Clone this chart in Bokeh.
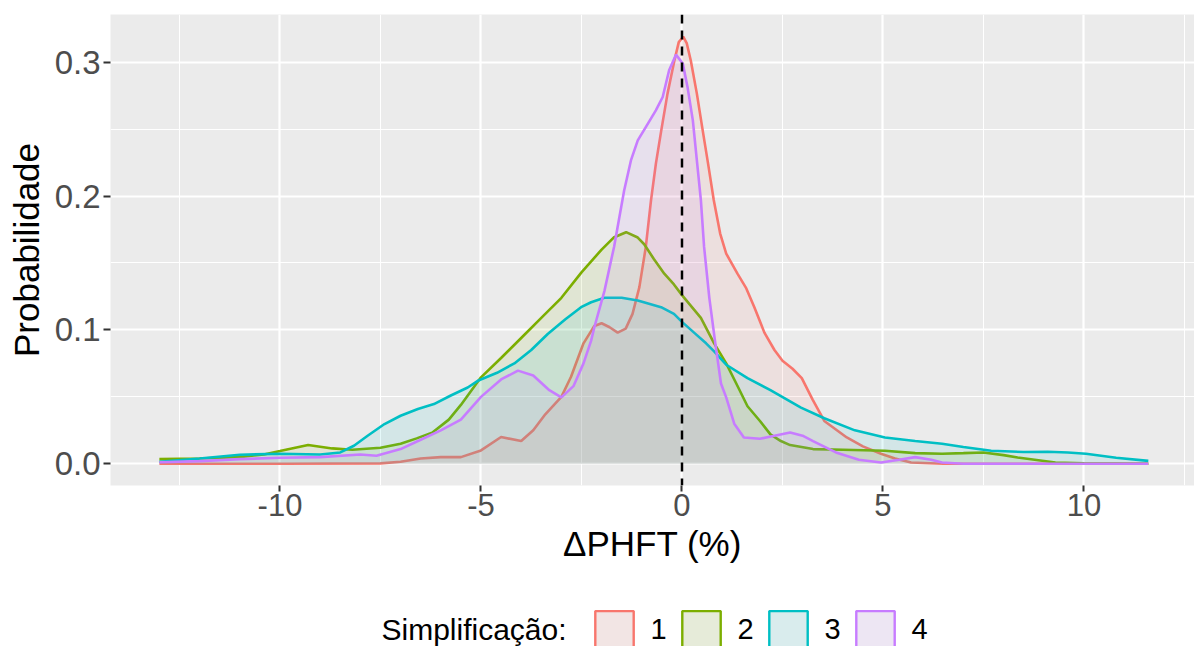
from bokeh.plotting import figure
from bokeh.layouts import column
from bokeh.models import (FixedTicker, Span, Legend, LegendItem, Label,
                          NumeralTickFormatter, Range1d)
from bokeh.embed import file_html
from bokeh.resources import INLINE

# ---------------- data ----------------
groups = ["1", "2", "3", "4"]
colors = ["#F8766D", "#7CAE00", "#00BFC4", "#C77CFF"]

x1 = [-13.0, -10.0, -7.5, -7.0, -6.5, -6.0, -5.5, -5.0, -4.5, -4.0,
      -3.7, -3.4, -3.0, -2.76, -2.45, -2.18, -2.0, -1.8, -1.6, -1.4,
      -1.23, -1.06, -0.9, -0.77, -0.65, -0.51, -0.36, -0.19, -0.08, 0.03,
      0.12, 0.22, 0.37, 0.51, 0.65, 0.79, 0.95, 1.1, 1.38, 1.6,
      1.8, 2.05, 2.3, 2.5, 2.75, 2.98, 3.25, 3.54, 4.1, 4.5,
      4.95, 5.3, 5.7, 6.5, 8.0, 10.0, 11.6]
y1 = [0.0, 0.0, 0.0003, 0.0015, 0.004, 0.005, 0.005, 0.010, 0.020, 0.017,
      0.025, 0.037, 0.050, 0.065, 0.090, 0.103, 0.105, 0.102, 0.098, 0.101,
      0.112, 0.132, 0.162, 0.197, 0.224, 0.250, 0.2765, 0.301, 0.315, 0.319,
      0.314, 0.301, 0.2765, 0.250, 0.224, 0.197, 0.172, 0.157, 0.142, 0.131,
      0.117, 0.098, 0.085, 0.077, 0.071, 0.064, 0.048, 0.032, 0.0197, 0.013,
      0.0075, 0.004, 0.001, 0.0, 0.0, 0.0, 0.0]

x2 = [-13.0, -12.0, -11.0, -10.4, -10.0, -9.3, -8.7, -8.2, -7.5, -7.0,
      -6.6, -6.2, -5.8, -5.5, -5.0, -4.5, -4.0, -3.5, -3.0, -2.5,
      -2.0, -1.7, -1.39, -1.1, -0.94, -0.7, -0.44, -0.2, 0.0, 0.47,
      0.8, 1.1, 1.4, 1.63, 1.94, 2.2, 2.46, 2.69, 3.26, 4.0,
      5.05, 5.8, 6.47, 7.0, 7.5, 8.0, 8.35, 9.29, 10.0, 11.6]
y2 = [0.0035, 0.004, 0.005, 0.007, 0.0095, 0.014, 0.0115, 0.0105, 0.012, 0.015,
      0.019, 0.0235, 0.033, 0.044, 0.0646, 0.079, 0.094, 0.109, 0.124, 0.143,
      0.160, 0.169, 0.173, 0.169, 0.164, 0.153, 0.142, 0.134, 0.126, 0.109,
      0.090, 0.075, 0.057, 0.043, 0.032, 0.022, 0.017, 0.014, 0.011, 0.0105,
      0.0097, 0.008, 0.0075, 0.008, 0.0085, 0.0065, 0.0047, 0.001, 0.0003, 0.0]

x3 = [-13.0, -12.0, -11.0, -10.0, -9.0, -8.5, -8.16, -7.82, -7.4, -7.0,
      -6.57, -6.17, -5.75, -5.33, -5.08, -4.6, -4.17, -3.75, -3.34, -2.9,
      -2.51, -2.26, -1.93, -1.5, -1.1, -0.52, -0.2, 0.0, 0.3, 0.6,
      0.8, 1.1, 1.63, 2.2, 2.96, 3.54, 4.3, 5.05, 5.8, 6.47,
      7.0, 7.69, 8.5, 9.1, 9.6, 10.05, 10.8, 11.6]
y3 = [0.0015, 0.004, 0.0068, 0.0075, 0.007, 0.0085, 0.0135, 0.021, 0.0297, 0.0359,
      0.041, 0.0446, 0.051, 0.057, 0.062, 0.068, 0.075, 0.085, 0.097, 0.108,
      0.117, 0.1207, 0.124, 0.124, 0.122, 0.117, 0.112, 0.106, 0.098, 0.090,
      0.084, 0.074, 0.064, 0.055, 0.042, 0.034, 0.025, 0.0197, 0.017, 0.015,
      0.0125, 0.0097, 0.0088, 0.009, 0.0085, 0.0075, 0.0045, 0.0022]

x4 = [-13.0, -12.0, -11.0, -10.0, -9.0, -8.0, -7.6, -7.0, -6.5, -6.0,
      -5.5, -5.0, -4.5, -4.08, -3.7, -3.3, -3.0, -2.7, -2.45, -2.26,
      -2.18, -1.93, -1.69, -1.44, -1.27, -1.1, -0.9, -0.65, -0.48, -0.32,
      -0.15, 0.02, 0.14, 0.27, 0.37, 0.47, 0.55, 0.68, 0.82, 0.97,
      1.1, 1.3, 1.54, 1.94, 2.3, 2.69, 3.0, 3.26, 3.83, 4.4,
      4.95, 5.4, 5.8, 6.2, 6.47, 7.0, 9.0, 11.6]
y4 = [0.0012, 0.002, 0.0035, 0.0045, 0.005, 0.007, 0.006, 0.011, 0.018, 0.025,
      0.033, 0.050, 0.063, 0.0696, 0.066, 0.055, 0.0496, 0.058, 0.075, 0.092,
      0.102, 0.129, 0.162, 0.204, 0.2266, 0.2416, 0.2515, 0.264, 0.274, 0.294,
      0.3056, 0.299, 0.281, 0.2565, 0.2266, 0.197, 0.162, 0.124, 0.092, 0.060,
      0.0496, 0.030, 0.0197, 0.0187, 0.021, 0.0234, 0.021, 0.017, 0.0085, 0.003,
      0.001, 0.003, 0.005, 0.003, 0.001, 0.0, 0.0, 0.0]

x_ticks = [-10, -5, 0, 5, 10]
x_tick_labels = ["-10", "-5", "0", "5", "10"]
x_minor = [-12.5, -7.5, -2.5, 2.5, 7.5, 12.5]
y_ticks = [0.0, 0.1, 0.2, 0.3]
y_tick_labels = ["0.0", "0.1", "0.2", "0.3"]
y_minor = [0.05, 0.15, 0.25]
ref_x = 0.0

x_title = "ΔPHFT (%)"
y_title = "Probabilidade"
legend_title = "Simplificação:"

FONT = "Liberation Sans"

# ---------------- main figure ----------------
p = figure(width=1194, height=586,
           x_range=(-14.216, 12.749), y_range=(-0.0162, 0.3356),
           output_backend="svg", toolbar_location=None,
           min_border_left=110, min_border_right=0,
           min_border_top=14, min_border_bottom=101)
p.background_fill_color = "#EBEBEB"
p.border_fill_color = "white"
p.outline_line_color = None

series = [(x1, y1), (x2, y2), (x3, y3), (x4, y4)]
for (xs, ys), c in zip(series, colors):
    p.varea(x=xs, y1=0, y2=ys, fill_color=c, fill_alpha=0.1)
    p.line(xs, ys, line_color=c, line_width=2.6)

p.add_layout(Span(location=ref_x, dimension="height", line_color="black",
                  line_dash="9 7", line_width=2.5))

p.xaxis.ticker = FixedTicker(ticks=x_ticks, minor_ticks=x_minor)
p.yaxis.ticker = FixedTicker(ticks=y_ticks, minor_ticks=y_minor)
p.xaxis.major_label_overrides = dict(zip(x_ticks, x_tick_labels))
p.yaxis.formatter = NumeralTickFormatter(format="0.0")
p.yaxis.major_label_overrides = dict(zip(y_ticks, y_tick_labels))

for ax in (p.xaxis[0], p.yaxis[0]):
    ax.axis_line_color = None
    ax.major_tick_line_color = "#333333"
    ax.major_tick_line_width = 2
    ax.major_tick_in = 0
    ax.minor_tick_in = 0
    ax.minor_tick_out = 0
    ax.major_label_text_font = FONT
    ax.major_label_text_color = "#4D4D4D"
    ax.axis_label_text_font = FONT
    ax.axis_label_text_font_size = "35px"
    ax.axis_label_text_font_style = "normal"
    ax.axis_label_text_color = "black"

p.xaxis.major_label_text_font_size = "31px"
p.yaxis.major_label_text_font_size = "33px"
p.xaxis.axis_label = x_title
p.yaxis.axis_label = y_title
p.xaxis.major_tick_out = 6
p.yaxis.major_tick_out = 7
p.xaxis.major_label_standoff = 2
p.yaxis.major_label_standoff = 3
p.xaxis.axis_label_standoff = 5
p.yaxis.axis_label_standoff = 6

for g in (p.xgrid[0], p.ygrid[0]):
    g.grid_line_color = "white"
    g.grid_line_width = 2.2
    g.minor_grid_line_color = "white"
    g.minor_grid_line_width = 1.1

# ---------------- legend strip (frame aligned with the main frame) ----------------
lg = figure(width=1194, height=60, x_range=Range1d(0, 1), y_range=Range1d(0, 1),
            output_backend="svg", toolbar_location=None,
            x_axis_location=None, y_axis_location=None,
            min_border_left=110, min_border_right=0,
            min_border_top=0, min_border_bottom=0)
lg.outline_line_color = None
lg.background_fill_color = "white"
lg.border_fill_color = "white"
lg.grid.visible = False

# key renderers: their single box lies outside the strip's ranges, so only
# the legend glyphs are seen
key_src = dict(left=[2.0], right=[3.0], bottom=[2.0], top=[3.0])
bg = lg.quad(source=key_src, left="left", right="right", bottom="bottom", top="top",
             fill_color="#F2F2F2", line_color=None)
items = []
for g, c in zip(groups, colors):
    r = lg.quad(source=key_src, left="left", right="right", bottom="bottom", top="top",
                fill_color=c, fill_alpha=0.1, line_color=c, line_width=2.4)
    items.append(LegendItem(label=g, renderers=[bg, r]))

legend = Legend(items=items, orientation="horizontal",
                location=(479.5, -6),
                glyph_width=48, glyph_height=46,
                label_text_font=FONT, label_text_font_size="29px",
                label_text_color="black",
                label_standoff=13, label_width=20, spacing=6,
                padding=0, margin=0,
                border_line_color=None, background_fill_alpha=0)
lg.add_layout(legend)
lg.add_layout(Label(x=271, y=17, x_units="screen", y_units="screen",
                    text=legend_title, text_font=FONT, text_font_size="30px",
                    text_baseline="middle", text_align="left",
                    text_color="black"))

layout = column(p, lg, spacing=0)
open("out.html", "w").write(file_html(layout, INLINE))
